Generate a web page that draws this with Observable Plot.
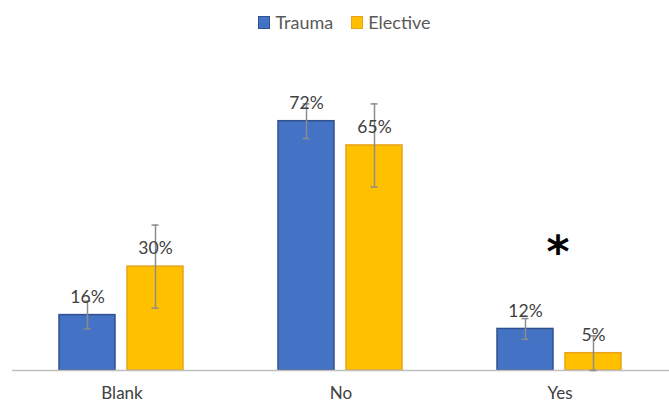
<!DOCTYPE html>
<html>
<head>
<meta charset="utf-8">
<script src="https://cdn.jsdelivr.net/npm/d3@7"></script>
<script src="https://cdn.jsdelivr.net/npm/@observablehq/plot@0.6"></script>
<style>
  html, body { margin: 0; padding: 0; background: #fff; }
  body { width: 669px; height: 404px; overflow: hidden; font-family: Lato, sans-serif; }
  #legend { height: 40px; padding-top: 4px; display: flex; justify-content: center; align-items: center; gap: 18px; padding-left: 20px; box-sizing: border-box; color: #595959; font-size: 18px; }
  #legend .item { display: flex; align-items: center; gap: 5px; }
  #legend .sw { width: 10px; height: 11px; border: 1.5px solid; }
  #chart svg { display: block; }
</style>
</head>
<body>
<div id="legend"></div>
<div id="chart"></div>
<script>
const categories = ["Blank", "No", "Yes"];
const series = ["Trauma", "Elective"];
const traumaValues = [16, 72, 12];
const electiveValues = [30, 65, 5];
const traumaErrors = [4, 5, 3];
const electiveErrors = [12, 12, 5];
const annotations = [{category: "Yes", value: 34, text: "*"}];

const fills = {Trauma: "#4472C4", Elective: "#FFC000"};
const strokes = {Trauma: "#2F528F", Elective: "#E9A21A"};

const data = [];
categories.forEach((c, i) => {
  data.push({category: c, series: "Trauma", value: traumaValues[i], err: traumaErrors[i]});
  data.push({category: c, series: "Elective", value: electiveValues[i], err: electiveErrors[i]});
});

const legend = document.getElementById("legend");
series.forEach(s => {
  const item = document.createElement("div");
  item.className = "item";
  const sw = document.createElement("span");
  sw.className = "sw";
  sw.style.background = fills[s];
  sw.style.borderColor = strokes[s];
  const t = document.createElement("span");
  t.textContent = s;
  item.append(sw, t);
  legend.append(item);
});

const chart = Plot.plot({
  width: 669,
  height: 364,
  marginTop: 53,
  marginBottom: 34,
  marginLeft: 12,
  marginRight: 0,
  style: {fontFamily: "Lato, sans-serif", fontSize: "17px", color: "#404040", background: "#fff"},
  fx: {domain: categories, padding: 0, label: null},
  x: {domain: series, paddingInner: 0.174, paddingOuter: 0.681, axis: null},
  y: {domain: [0, 80], axis: null},
  color: {domain: series, range: series.map(s => fills[s])},
  marks: [
    Plot.barY(data, {fx: "category", x: "series", y: "value", fill: "series", stroke: d => strokes[d.series], strokeWidth: 1.5}),
    Plot.ruleY([0], {stroke: "#BFBFBF", strokeWidth: 1.5}),
    Plot.ruleX(data, {fx: "category", x: "series", y1: d => Math.max(0, d.value - d.err), y2: d => d.value + d.err, stroke: "#8C8C8C", strokeWidth: 1.5}),
    Plot.tickY(data, {fx: "category", x: "series", y: d => d.value + d.err, stroke: "#8C8C8C", strokeWidth: 1.5, insetLeft: 24.5, insetRight: 24.5}),
    Plot.tickY(data, {fx: "category", x: "series", y: d => Math.max(0, d.value - d.err), stroke: "#8C8C8C", strokeWidth: 1.5, insetLeft: 24.5, insetRight: 24.5}),
    Plot.text(data, {fx: "category", x: "series", y: "value", text: d => d.value + "%", dy: -18, fill: "#404040", fontSize: 17.5}),
    Plot.text(annotations, {fx: "category", y: "value", text: "text", fontSize: 44, fontWeight: "bold", fontFamily: "DejaVu Sans", fill: "#000", dx: -2}),
    Plot.axisFx({anchor: "bottom", tickSize: 0, tickPadding: 16, label: null, fontSize: 17, fill: "#404040"})
  ]
});
document.getElementById("chart").append(chart);
</script>
</body>
</html>
